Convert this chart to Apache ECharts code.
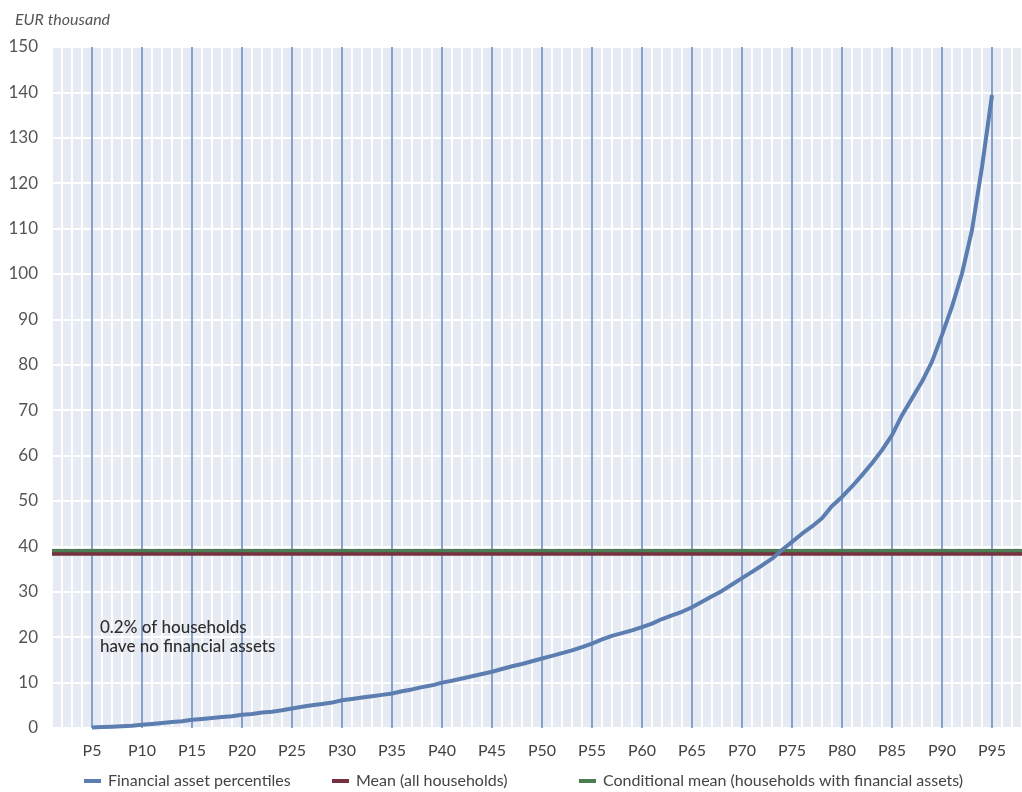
<!DOCTYPE html>
<html>
<head>
<meta charset="utf-8">
<script src="https://cdn.jsdelivr.net/npm/echarts@6/dist/echarts.min.js"></script>
<style>
html,body{margin:0;padding:0;background:#fff;}
#chart{width:1022px;height:792px;}
</style>
</head>
<body>
<div id="chart"></div>
<script>
// Category axis: percentiles P1..P98
const categories = [];
for (let p = 1; p <= 98; p++) categories.push('P' + p);

// Financial asset percentiles P5..P95 (EUR thousand)
const percentileStart = 5;
const financialAssets = [
  0.1, 0.2, 0.3, 0.4, 0.5, 0.7, 0.9, 1.1, 1.3, 1.5,
  1.8, 2.0, 2.2, 2.4, 2.6, 2.9, 3.1, 3.4, 3.6, 3.9,
  4.3, 4.7, 5.0, 5.3, 5.6, 6.1, 6.4, 6.7, 7.0, 7.3,
  7.6, 8.1, 8.5, 9.0, 9.4, 10.0, 10.4, 10.9, 11.4, 11.9,
  12.4, 13.0, 13.6, 14.1, 14.7, 15.3, 15.9, 16.5, 17.1, 17.8,
  18.6, 19.5, 20.3, 20.9, 21.5, 22.2, 23.0, 24.0, 24.8, 25.6,
  26.6, 27.8, 29.0, 30.2, 31.6, 33.0, 34.4, 35.8, 37.3, 39.2,
  41.0, 42.8, 44.4, 46.2, 48.9, 50.9, 53.2, 55.7, 58.3, 61.2,
  64.5, 68.9, 72.6, 76.3, 80.7, 86.6, 92.8, 100.1, 109.7, 123.6,
  139.4
];
const meanAll = 38.3;
const meanConditional = 39.1;

const seriesNames = ['Financial asset percentiles', 'Mean (all households)', 'Conditional mean (households with financial assets)'];
const annotationText = '0.2% of households\nhave no financial assets';
const unitLabel = 'EUR thousand';

const lineData = categories.map((c, i) => {
  const k = i + 1 - percentileStart;
  return (k >= 0 && k < financialAssets.length) ? financialAssets[k] : null;
});

const FONT = 'Lato, "Open Sans", sans-serif';
const legendLefts = [79, 327, 574];
const legends = seriesNames.map((n, i) => ({
  left: legendLefts[i], top: 768,
  icon: 'rect', itemWidth: 17, itemHeight: 4,
  textStyle: { fontSize: 16, color: '#444', fontFamily: FONT, padding: [0, 0, 0, 2] },
  data: [n]
}));

const chart = echarts.init(document.getElementById('chart'));
chart.setOption({
  animation: false,
  textStyle: { fontFamily: FONT },
  title: {
    text: unitLabel, left: 10, top: 7,
    textStyle: { fontStyle: 'italic', fontWeight: 'normal', fontSize: 16, color: '#555', fontFamily: FONT }
  },
  grid: {
    left: 52, right: 0, top: 47, bottom: 64,
    show: true, backgroundColor: '#e6ebf3', borderWidth: 0
  },
  legend: legends,
  xAxis: [
    {
      type: 'category', data: categories, boundaryGap: false,
      axisLine: { show: false }, axisTick: { show: false },
      axisLabel: { interval: (i) => i % 5 === 4, color: '#444', fontSize: 16, margin: 15, fontFamily: FONT },
      splitLine: { show: true, interval: 0, lineStyle: { color: '#ffffff', width: 2 } }
    },
    {
      type: 'category', data: categories, boundaryGap: false, position: 'bottom',
      axisLine: { show: false }, axisTick: { show: false }, axisLabel: { show: false },
      splitLine: { show: true, interval: (i) => i % 5 === 4, lineStyle: { color: '#5f82bb', width: 1.5 } }
    }
  ],
  yAxis: {
    type: 'value', min: 0, max: 150, interval: 10,
    axisLine: { show: false }, axisTick: { show: false },
    axisLabel: { color: '#555', fontSize: 17, margin: 14, fontFamily: FONT },
    splitLine: { show: true, lineStyle: { color: '#ffffff', width: 2 } }
  },
  series: [
    {
      name: seriesNames[2], type: 'line', data: [], z: 3,
      itemStyle: { color: '#4c7c51' }, lineStyle: { color: '#4c7c51' },
      markLine: {
        silent: true, symbol: 'none', label: { show: false },
        lineStyle: { color: '#4c7c51', width: 4, type: 'solid' },
        data: [{ yAxis: meanConditional }]
      }
    },
    {
      name: seriesNames[1], type: 'line', data: [], z: 4,
      itemStyle: { color: '#76303f' }, lineStyle: { color: '#76303f' },
      markLine: {
        silent: true, symbol: 'none', label: { show: false },
        lineStyle: { color: '#76303f', width: 3.5, type: 'solid' },
        data: [{ yAxis: meanAll }]
      }
    },
    {
      name: seriesNames[0], type: 'line', data: lineData, z: 10,
      symbol: 'none', showSymbol: false, connectNulls: false,
      itemStyle: { color: '#5b7db0' },
      lineStyle: { color: '#5b7db0', width: 4 }
    }
  ],
  graphic: [{
    type: 'text', left: 100, top: 618, z: 100,
    style: { text: annotationText, fill: '#2e2e2e', fontSize: 17, fontWeight: 500, lineHeight: 19, fontFamily: FONT }
  }]
});
</script>
</body>
</html>
